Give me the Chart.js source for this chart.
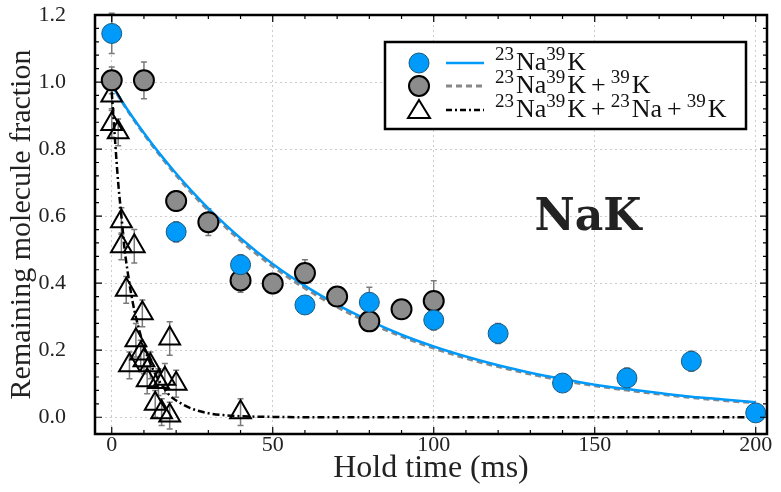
<!DOCTYPE html>
<html>
<head>
<meta charset="utf-8">
<script src="https://cdn.jsdelivr.net/npm/chart.js@4.4.0/dist/chart.umd.min.js"></script>
<style>
html, body { margin: 0; padding: 0; background: #fff; }
#wrap { width: 781px; height: 492px; }
</style>
</head>
<body>
<div id="wrap"><canvas id="chart" width="781" height="492"></canvas></div>
<script>
/* AXES */
const xTicks = [0, 50, 100, 150, 200];
const yTicks = [0, 0.2, 0.4, 0.6, 0.8, 1.0, 1.2];
const xTitle = "Hold time (ms)";
const yTitle = "Remaining molecule fraction";
const tag = "NaK";

/* DATA: 23Na39K */
const nakTime = [0, 20, 40, 60, 80, 100, 120, 140, 160, 180, 200];
const nakFrac = [1.145, 0.553, 0.455, 0.335, 0.343, 0.29, 0.25, 0.102, 0.117, 0.167, 0.013];
const nakErr  = [0.06, 0.03, 0.03, 0.02, 0.045, 0.03, 0.03, 0.02, 0.03, 0.03, 0.01];

/* DATA: 23Na39K + 39K */
const nakkTime = [0, 10, 20, 30, 40, 50, 60, 70, 80, 90, 100];
const nakkFrac = [1.005, 1.005, 0.645, 0.582, 0.408, 0.399, 0.43, 0.36, 0.286, 0.322, 0.347];
const nakkErr  = [0.04, 0.055, 0.03, 0.04, 0.035, 0.03, 0.04, 0.025, 0.025, 0.025, 0.06];

/* DATA: 23Na39K + 23Na + 39K */
const mixTime = [0, 0, 2, 3, 3, 7, 4.5, 9.5, 7.5, 18, 5.5, 9, 10, 12, 11, 14.5, 16.5, 20, 13.5, 15.5, 18, 40];
const mixFrac = [0.96, 0.875, 0.85, 0.585, 0.51, 0.51, 0.38, 0.31, 0.23, 0.235, 0.155, 0.19, 0.17, 0.155, 0.11, 0.105, 0.115, 0.10, 0.04, 0.015, 0.005, 0.015];
const mixErr  = [0.04, 0.04, 0.04, 0.04, 0.04, 0.05, 0.04, 0.04, 0.05, 0.05, 0.04, 0.04, 0.04, 0.04, 0.04, 0.04, 0.045, 0.04, 0.04, 0.04, 0.04, 0.04];

/* FIT CURVES */
const fitTime = [0, 5, 10, 15, 20, 25, 30, 40, 50, 60, 70, 80, 90, 100, 110, 120, 130, 140, 150, 160, 170, 180, 190, 200];
const fitNak  = [0.990, 0.916, 0.848, 0.785, 0.727, 0.673, 0.623, 0.534, 0.457, 0.392, 0.336, 0.288, 0.246, 0.211, 0.181, 0.155, 0.133, 0.114, 0.097, 0.084, 0.072, 0.061, 0.053, 0.045];
const fitNakk = [0.990, 0.914, 0.845, 0.781, 0.722, 0.667, 0.617, 0.527, 0.450, 0.385, 0.329, 0.282, 0.241, 0.206, 0.176, 0.151, 0.129, 0.110, 0.094, 0.081, 0.069, 0.059, 0.050, 0.043];
const fitMixTime = [0, 1, 2, 3, 4, 5, 6, 7, 8, 10, 12, 14, 16, 18, 20, 25, 30, 35, 40, 50, 60, 80, 100, 150, 200];
const fitMix     = [0.97, 0.83, 0.70, 0.60, 0.50, 0.43, 0.37, 0.32, 0.28, 0.21, 0.16, 0.12, 0.09, 0.065, 0.05, 0.025, 0.012, 0.006, 0.003, 0.001, 0, 0, 0, 0, 0];

/* LEGEND */
const legendLabels = ["^{23}Na^{39}K", "^{23}Na^{39}K+^{39}K", "^{23}Na^{39}K+^{23}Na+^{39}K"];

/* STYLE */
const SERIF = "'Liberation Serif', 'DejaVu Serif', serif";
const BLUE = "#009afa";
const GRAY = "#8c8c8c";

const pts = (xs, ys) => xs.map((x, i) => ({ x, y: ys[i] }));

/* PLUGINS */
const errorBars = {
    id: "errorBars",
    beforeDatasetsDraw(chart) {
        const { ctx, scales: { x, y } } = chart;
        ctx.save();
        ctx.strokeStyle = "#7a7a7a";
        ctx.lineWidth = 1.5;
        chart.data.datasets.forEach(ds => {
            if (!ds.errors) return;
            ds.data.forEach((p, i) => {
                const px = x.getPixelForValue(p.x);
                const top = y.getPixelForValue(p.y + ds.errors[i]);
                const bot = y.getPixelForValue(p.y - ds.errors[i]);
                ctx.beginPath();
                ctx.moveTo(px, top); ctx.lineTo(px, bot);
                ctx.moveTo(px - 3, top); ctx.lineTo(px + 3, top);
                ctx.moveTo(px - 3, bot); ctx.lineTo(px + 3, bot);
                ctx.stroke();
            });
        });
        ctx.restore();
    }
};

// text with ^{..} superscripts; "+" gets math spacing
function richText(ctx, str, x, y, size) {
    const parts = str.split(/(\^\{[^}]*\}|\+)/).filter(s => s);
    let cx = x;
    parts.forEach(s => {
        const sup = s.startsWith("^{");
        const t = sup ? s.slice(2, -1) : s;
        ctx.font = `${sup ? Math.round(size * 0.72) : size}px ${SERIF}`;
        if (s === "+") cx += 5;
        ctx.fillText(t, cx, sup ? y - size * 0.4 : y);
        cx += ctx.measureText(t).width + (sup ? 2 : 0) + (s === "+" ? 5 : 0);
    });
}

const frame = {
    id: "frame",
    afterDraw(chart) {
        const { ctx, chartArea: a, scales: { x, y } } = chart;
        ctx.save();
        ctx.strokeStyle = "#000";
        ctx.lineWidth = 1.2;
        ctx.beginPath();
        for (let v = 0; v <= 200; v += 10) {
            const px = x.getPixelForValue(v);
            const len = v % 50 === 0 ? 7 : 4;
            ctx.moveTo(px, a.bottom); ctx.lineTo(px, a.bottom - len);
            ctx.moveTo(px, a.top); ctx.lineTo(px, a.top + len);
        }
        for (let i = 0; i <= 30; i++) {
            const py = y.getPixelForValue(i * 0.04);
            const len = i % 5 === 0 ? 7 : 4;
            ctx.moveTo(a.left, py); ctx.lineTo(a.left + len, py);
            ctx.moveTo(a.right, py); ctx.lineTo(a.right - len, py);
        }
        ctx.stroke();
        ctx.lineWidth = 2.5;
        ctx.strokeRect(a.left, a.top, a.width, a.height);

        // tag
        ctx.fillStyle = "#222";
        ctx.font = "bold 44px 'DejaVu Serif', serif";
        ctx.textAlign = "center";
        ctx.textBaseline = "alphabetic";
        ctx.fillText(tag, 588, 230);

        // legend
        const lx = 385, ly = 42, lw = 361, lh = 87;
        ctx.fillStyle = "#fff";
        ctx.fillRect(lx, ly, lw, lh);
        ctx.lineWidth = 2.5;
        ctx.strokeRect(lx, ly, lw, lh);
        const rows = [63, 86, 110];
        rows.forEach((ry, i) => {
            ctx.setLineDash([]);
            ctx.beginPath();
            if (i === 2) {
                ctx.moveTo(419, ry - 10); ctx.lineTo(430, ry + 8); ctx.lineTo(408, ry + 8); ctx.closePath();
                ctx.lineWidth = 2; ctx.strokeStyle = "#000"; ctx.stroke();
            } else {
                ctx.arc(419, ry, 10, 0, Math.PI * 2);
                ctx.fillStyle = i === 0 ? BLUE : GRAY;
                ctx.fill();
                ctx.lineWidth = i === 0 ? 1 : 2;
                ctx.strokeStyle = i === 0 ? "#1a5a80" : "#000";
                ctx.stroke();
            }
            ctx.beginPath();
            ctx.moveTo(446, ry); ctx.lineTo(484, ry);
            if (i === 0) { ctx.strokeStyle = BLUE; ctx.lineWidth = 2.5; ctx.setLineDash([]); }
            if (i === 1) { ctx.strokeStyle = "#888"; ctx.lineWidth = 3; ctx.setLineDash([6, 4]); }
            if (i === 2) { ctx.strokeStyle = "#000"; ctx.lineWidth = 2.5; ctx.setLineDash([6, 3, 2, 3]); }
            ctx.stroke();
            ctx.setLineDash([]);
            ctx.fillStyle = "#111";
            ctx.textAlign = "left";
            ctx.textBaseline = "alphabetic";
            richText(ctx, legendLabels[i], 495, ry + 7, 26);
        });
        ctx.restore();
    }
};

/* CHART */
new Chart(document.getElementById("chart"), {
    type: "scatter",
    data: {
        datasets: [
            {
                type: "line", label: "fit nak", data: pts(fitTime, fitNak),
                borderColor: BLUE, borderWidth: 2.5, pointRadius: 0,
                cubicInterpolationMode: "monotone", order: 4
            },
            {
                type: "line", label: "fit nakk", data: pts(fitTime, fitNakk),
                borderColor: "#888", borderWidth: 3, borderDash: [6, 4], pointRadius: 0,
                cubicInterpolationMode: "monotone", order: 5
            },
            {
                type: "line", label: "fit mix", data: pts(fitMixTime, fitMix),
                borderColor: "#000", borderWidth: 2.5, borderDash: [7, 3, 2, 3], pointRadius: 0,
                cubicInterpolationMode: "monotone", order: 6
            },
            {
                label: "mix", data: pts(mixTime, mixFrac), errors: mixErr,
                pointStyle: "triangle", pointRadius: 12, borderWidth: 2,
                borderColor: "#000", backgroundColor: "rgba(0,0,0,0)", order: 3
            },
            {
                label: "nakk", data: pts(nakkTime, nakkFrac), errors: nakkErr,
                pointRadius: 10, borderWidth: 2, borderColor: "#000",
                backgroundColor: GRAY, order: 2
            },
            {
                label: "nak", data: pts(nakTime, nakFrac), errors: nakErr,
                pointRadius: 10, borderWidth: 1, borderColor: "#1a5a80",
                backgroundColor: BLUE, order: 1
            }
        ]
    },
    options: {
        responsive: false,
        animation: false,
        layout: { padding: { top: 15, right: 7, left: 0, bottom: 0 } },
        plugins: { legend: { display: false }, tooltip: { enabled: false } },
        scales: {
            x: {
                type: "linear", min: -5.2, max: 203.5,
                afterBuildTicks: s => { s.ticks = xTicks.map(v => ({ value: v })); },
                afterFit: s => { s.height = 58; s.paddingLeft = 0; s.paddingRight = 0; },
                grid: { color: "#cccccc", lineWidth: 1, drawTicks: false },
                border: { display: false, dash: [2, 3] },
                ticks: { color: "#222", padding: -2, font: { family: SERIF, size: 22 }, maxRotation: 0 },
                title: { display: true, text: xTitle, color: "#222", font: { family: SERIF, size: 32 }, padding: { top: 0, bottom: 4 } }
            },
            y: {
                type: "linear", min: -0.05, max: 1.2,
                afterBuildTicks: s => { s.ticks = yTicks.map(v => ({ value: v })); },
                afterFit: s => { s.width = 95; s.paddingTop = 0; s.paddingBottom = 0; },
                grid: { color: "#cccccc", lineWidth: 1, drawTicks: false },
                border: { display: false, dash: [2, 3] },
                ticks: { color: "#222", padding: 29, font: { family: SERIF, size: 22 }, callback: v => v.toFixed(1) },
                title: { display: true, text: yTitle, color: "#222", font: { family: SERIF, size: 30 }, padding: { top: 4, bottom: 0 } }
            }
        }
    },
    plugins: [errorBars, frame]
});
</script>
</body>
</html>
